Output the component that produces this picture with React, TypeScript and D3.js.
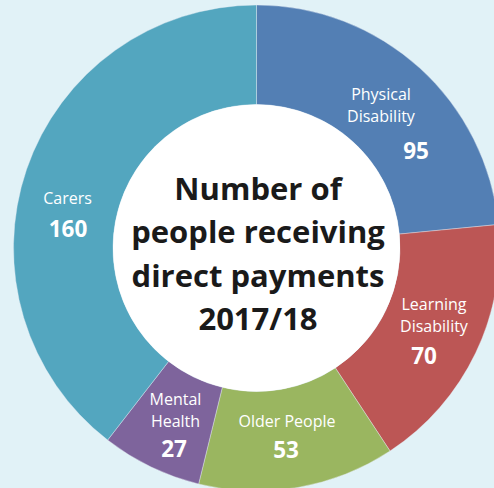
import React from "react";
import * as d3 from "d3";

const categories = ["Physical Disability", "Learning Disability", "Older People", "Mental Health", "Carers"];
const values = [95, 70, 53, 27, 160];
const labelLines = [["Physical", "Disability"], ["Learning", "Disability"], ["Older People"], ["Mental", "Health"], ["Carers"]];
const colors = ["#537fb4", "#bc5655", "#9ab660", "#7e649c", "#53a6bf"];
const centerTitle = ["Number of", "people receiving", "direct payments", "2017/18"];

const labelPos = [
  { x: 381, y: 94, ny: 150, nx: 416 },
  { x: 434, y: 304, ny: 355, nx: 424 },
  { x: 287, y: 421, ny: 449, nx: 286 },
  { x: 175.5, y: 399, ny: 448, nx: 174 },
  { x: 67.5, y: 198, ny: 228, nx: 68 },
];

export default function App() {
  const W = 494, H = 488;
  const cx = 256.5, cy = 248;
  const outer = 243, inner = 143.5;
  const pie = d3.pie<number>().sort(null).value((d) => d).startAngle(0).endAngle(2 * Math.PI);
  const arcs = pie(values);
  const arc = d3.arc<d3.PieArcDatum<number>>().innerRadius(inner).outerRadius(outer);
  const font = "'Open Sans', sans-serif";
  return (
    <svg width={W} height={H} style={{ position: "absolute", left: 0, top: 0 }}>
      <rect width={W} height={H} fill="#e1f2f7" />
      <g transform={`translate(${cx},${cy})`}>
        {arcs.map((a, i) => (
          <path key={categories[i]} d={arc(a) || ""} fill={colors[i]} stroke="#e8eef5" strokeWidth={0.4} />
        ))}
        <circle r={inner} fill="#ffffff" />
      </g>
      {arcs.map((a, i) => {
        const p = labelPos[i];
        const lines = labelLines[i];
        return (
          <g key={"l" + i} fill="#ffffff" fontFamily={font}>
            {lines.map((t, j) => (
              <text key={j} x={p.x} y={p.y + j * 21.5} textAnchor="middle" dominantBaseline="central" fontSize={16}>
                {t}
              </text>
            ))}
            <text x={p.nx} y={p.ny} textAnchor="middle" dominantBaseline="central" fontSize={22.5} fontWeight="bold">
              {values[i]}
            </text>
          </g>
        );
      })}
      {centerTitle.map((t, i) => (
        <text key={t} x={258} y={188 + i * 43.3} textAnchor="middle" dominantBaseline="central" fontFamily={font}
          fontWeight="bold" fontSize={31} fill="#1a1a1a">
          {t}
        </text>
      ))}
    </svg>
  );
}
